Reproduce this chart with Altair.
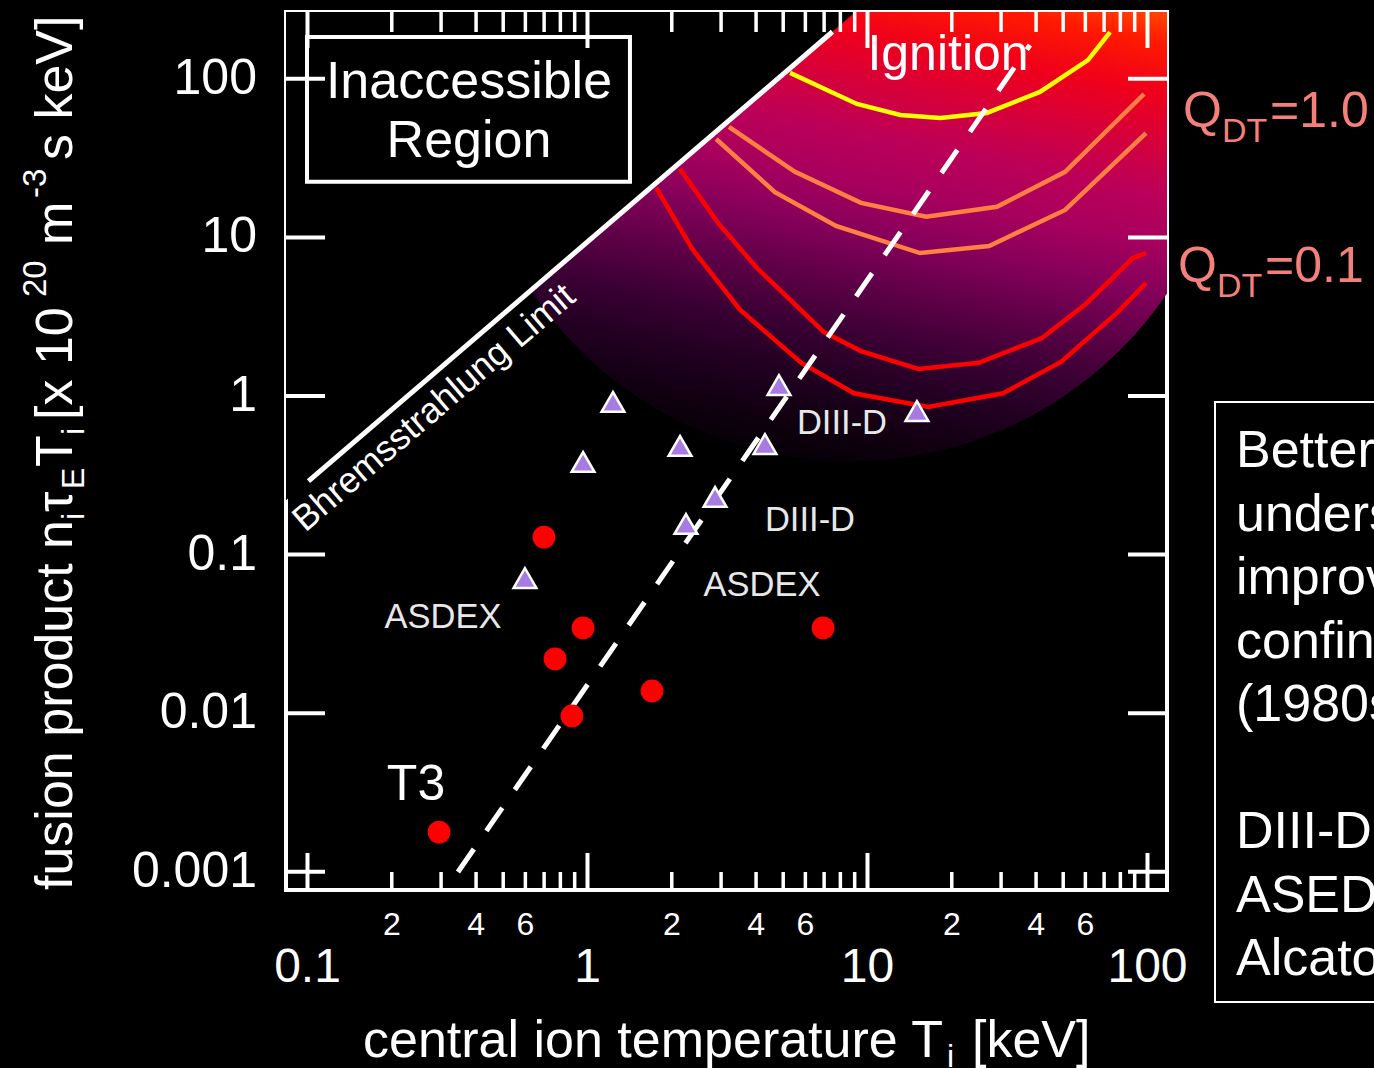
import altair as alt
import pandas as pd

# ---------------- data ----------------
# axis ranges (log-log)
X_DOMAIN = [0.0838, 117.4]
Y_DOMAIN = [0.000768, 263.7]

# Q-contour curves
curve_names = ["Ignition", "Q=1.0 (a)", "Q=1.0 (b)", "Q=0.1 (a)", "Q=0.1 (b)"]
curve_T = [
    [5.29, 9.17, 13.1, 18.2, 26.7, 41.3, 61.3, 73.5],
    [3.20, 5.51, 9.48, 16.2, 29.0, 50.8, 97.2],
    [2.88, 4.67, 7.72, 15.4, 27.2, 50.8, 98.8],
    [2.14, 2.93, 4.03, 6.99, 9.48, 15.2, 25.0, 42.0, 60.8, 88.8, 98.8],
    [1.76, 2.38, 3.51, 5.79, 8.95, 16.5, 30.5, 49.1, 78.5, 98.8],
]
curve_nT = [
    [109, 69.4, 59.1, 56.6, 60.9, 82.6, 131, 197],
    [49.7, 25.9, 16.5, 13.5, 15.6, 25.9, 80.2],
    [41.7, 19.3, 11.8, 7.97, 8.83, 14.9, 45.5],
    [27.0, 12.3, 6.41, 2.53, 1.92, 1.48, 1.62, 2.32, 3.86, 7.42, 7.97],
    [20.5, 8.33, 3.49, 1.62, 1.04, 0.852, 1.04, 1.64, 3.39, 5.16],
]
curve_colors = ["#ffff00", "#ff8040", "#ff8040", "#ff0000", "#ff0000"]

# experiments: red circles and purple triangles
circle_T = [0.295, 0.699, 0.964, 0.766, 0.880, 1.70, 6.94]
circle_nT = [0.00178, 0.129, 0.0345, 0.0220, 0.0096, 0.0138, 0.0345]
tri_T = [0.598, 0.964, 1.233, 2.14, 2.247, 2.854, 4.304, 4.83, 15.02]
tri_nT = [0.0712, 0.384, 0.917, 0.484, 0.156, 0.231, 0.498, 1.173, 0.804]

# Bremsstrahlung limit line and its masked (inaccessible) side
brems_T = [0.1008, 7.5]
brems_nT = [0.291, 198]
mask_T = [0.08, 12.0]
mask_nT = [0.205, 404]

# dashed trend line
trend_T = [0.3446, 38.05]
trend_nT = [0.000997, 163.4]

# reactor-regime disk centre
disk_T = [8.66]
disk_nT = [100.5]

# "Inaccessible Region" box
box_T = [0.0996, 1.418]
box_nT = [22.4, 183.5]

# labels
small_labels = ["ASDEX", "ASDEX", "DIII-D", "DIII-D"]
small_T = [0.3048, 4.20, 8.108, 6.232]
small_nT = [0.03446, 0.0548, 0.576, 0.1409]

# ticks
x_major = [0.1, 1, 10, 100]
x_major_lab = ["0.1", "1", "10", "100"]
x_minor = [0.2, 0.3, 0.4, 0.5, 0.6, 0.7, 0.8, 0.9,
           2, 3, 4, 5, 6, 7, 8, 9,
           20, 30, 40, 50, 60, 70, 80, 90]
x_minor_lab_pos = [0.2, 0.4, 0.6, 2, 4, 6, 20, 40, 60]
x_minor_lab = ["2", "4", "6", "2", "4", "6", "2", "4", "6"]
y_major = [100, 10, 1, 0.1, 0.01, 0.001]
y_major_lab = ["100", "10", "1", "0.1", "0.01", "0.001"]

side_lines_a = ["Better", "understanding,", "improved", "confinement", "(1980s)"]
side_lines_b = ["DIII-D", "ASEDX", "Alcator"]

# ---------------- helpers ----------------
FONT = "Liberation Sans"
xs = alt.Scale(type="log", domain=X_DOMAIN, nice=False)
ys = alt.Scale(type="log", domain=Y_DOMAIN, nice=False)


def X(f="x"):
    return alt.X(f"{f}:Q", scale=xs, axis=None)


def Y(f="y"):
    return alt.Y(f"{f}:Q", scale=ys, axis=None)


grad_offsets = [0.0, 0.077, 0.173, 0.269, 0.365, 0.462, 0.558, 0.654, 0.75, 0.846, 0.942, 1.0]
grad_colors = ["#ff5500", "#ff1a00", "#f0001a", "#d6003a", "#bc0058", "#a8005e",
               "#85005a", "#600048", "#3c0034", "#220022", "#100010", "#080008"]
grad = alt.LinearGradient(
    gradient="linear",
    stops=[alt.GradientStop(color=c, offset=o) for o, c in zip(grad_offsets, grad_colors)],
    x1=0.905, y1=0.400, x2=0.774, y2=1.055,
)

layers = []

# gradient disk
layers.append(
    alt.Chart(pd.DataFrame({"x": disk_T, "y": disk_nT}))
    .mark_arc(radius=383, theta=0, theta2=6.2832, fill=grad, clip=True)
    .encode(x=X(), y=Y())
)
# black mask above Bremsstrahlung limit
layers.append(
    alt.Chart(pd.DataFrame({"x": mask_T, "y": mask_nT, "y2": [1000, 1000]}))
    .mark_area(color="black", clip=True)
    .encode(x=X(), y=Y(), y2=alt.Y2("y2"))
)

# curves
rows = []
for name, Ts, Ns in zip(curve_names, curve_T, curve_nT):
    for i, (t, n) in enumerate(zip(Ts, Ns)):
        rows.append({"curve": name, "x": t, "y": n, "i": i})
layers.append(
    alt.Chart(pd.DataFrame(rows))
    .mark_line(strokeWidth=4.5, clip=True)
    .encode(
        x=X(), y=Y(),
        color=alt.Color("curve:N", scale=alt.Scale(domain=curve_names, range=curve_colors), legend=None),
        order="i:Q",
    )
)

# Bremsstrahlung line
layers.append(
    alt.Chart(pd.DataFrame({"x": brems_T, "y": brems_nT}))
    .mark_line(color="white", strokeWidth=5)
    .encode(x=X(), y=Y())
)
# dashed trend line
layers.append(
    alt.Chart(pd.DataFrame({"x": trend_T, "y": trend_nT}))
    .mark_line(color="white", strokeWidth=5, strokeDash=[28, 22])
    .encode(x=X(), y=Y())
)
# points
layers.append(
    alt.Chart(pd.DataFrame({"x": circle_T, "y": circle_nT}))
    .mark_point(shape="circle", filled=True, color="#ff0000", size=520, opacity=1)
    .encode(x=X(), y=Y())
)
layers.append(
    alt.Chart(pd.DataFrame({"x": tri_T, "y": tri_nT}))
    .mark_point(shape="triangle-up", filled=True, fill="#a77be2", stroke="white",
                strokeWidth=2.5, size=520, opacity=1)
    .encode(x=X(), y=Y())
)

# inaccessible box
layers.append(
    alt.Chart(pd.DataFrame({"x": [box_T[0]], "x2": [box_T[1]], "y": [box_nT[0]], "y2": [box_nT[1]]}))
    .mark_rect(filled=False, color="white", strokeWidth=4)
    .encode(x=X(), x2=alt.X2("x2"), y=Y(), y2=alt.Y2("y2"))
)


def text_layer(texts, Ts, Ns, **kw):
    return (
        alt.Chart(pd.DataFrame({"x": Ts, "y": Ns, "t": texts}))
        .mark_text(font=FONT, **kw)
        .encode(x=X(), y=Y(), text="t:N")
    )


layers.append(text_layer(["Inaccessible", "Region"], [0.3774, 0.3774], [75.7, 32.1],
                         fontSize=52, color="white", align="center", baseline="alphabetic"))
layers.append(text_layer(["Ignition"], [19.39], [113.6],
                         fontSize=50, color="white", align="center", baseline="alphabetic"))
layers.append(text_layer(["T3"], [0.2441], [0.002837],
                         fontSize=50, color="white", align="center", baseline="alphabetic"))
layers.append(text_layer(small_labels, small_T, small_nT,
                         fontSize=34.5, color="#e8e8e8", align="center", baseline="alphabetic"))
layers.append(text_layer(["Bhremsstrahlung Limit"], [0.2834], [0.840],
                         fontSize=36, color="white", align="center", baseline="middle", angle=319.4))

# ---------------- ticks ----------------
W, H = 881, 878


def xticks(vals, y0, y1, sw=4):
    return (
        alt.Chart(pd.DataFrame({"x": vals}))
        .mark_rule(color="white", strokeWidth=sw)
        .encode(x=X(), y=alt.value(y0), y2=alt.value(y1))
    )


def yticks(vals, x0, x1, sw=4):
    return (
        alt.Chart(pd.DataFrame({"y": vals}))
        .mark_rule(color="white", strokeWidth=sw)
        .encode(y=Y(), x=alt.value(x0), x2=alt.value(x1))
    )


layers += [
    xticks(x_major, H, H - 37), xticks(x_minor, H, H - 18, 3.5),
    xticks(x_major, 0, 36), xticks(x_minor, 0, 20, 3.5),
    yticks(y_major, 0, 39), yticks(y_major, W, W - 39),
]

# tick labels
layers.append(
    alt.Chart(pd.DataFrame({"x": x_major, "t": x_major_lab}))
    .mark_text(font=FONT, fontSize=48, color="white", align="center", baseline="alphabetic")
    .encode(x=X(), y=alt.value(970), text="t:N")
)
layers.append(
    alt.Chart(pd.DataFrame({"x": x_minor_lab_pos, "t": x_minor_lab}))
    .mark_text(font=FONT, fontSize=32, color="white", align="center", baseline="alphabetic")
    .encode(x=X(), y=alt.value(923), text="t:N")
)
layers.append(
    alt.Chart(pd.DataFrame({"y": y_major, "t": y_major_lab}))
    .mark_text(font=FONT, fontSize=50, color="white", align="right", baseline="middle")
    .encode(y=Y(), x=alt.value(-29), text="t:N")
)


def free_text(text, x, y, size, color="white", **kw):
    return (
        alt.Chart(pd.DataFrame({"t": [text]}))
        .mark_text(font=FONT, fontSize=size, color=color, baseline="alphabetic", **kw)
        .encode(x=alt.value(x), y=alt.value(y), text="t:N")
    )


# x-axis title
layers += [
    free_text("central ion temperature T", 77, 1045, 52, align="left"),
    free_text("i", 661, 1055, 32, align="left"),
    free_text("[keV]", 686, 1045, 52, align="left"),
]

# y-axis title (rotated pieces): (text, start y px, kind)
ytitle = [
    ("fusion product n", 890, "main"),
    ("i", 520, "sub"),
    ("τ", 512, "main"),
    ("E", 489, "sub"),
    ("T", 467, "main"),
    ("i", 435, "sub"),
    ("[x 10", 420, "main"),
    ("20", 297, "sup"),
    ("m", 245, "main"),
    ("-3", 198, "sup"),
    ("s keV]", 160, "main"),
]
base_x = {"main": 72, "sub": 84, "sup": 46}
fsize = {"main": 52, "sub": 32, "sup": 33}
for t, ypx, kind in ytitle:
    layers.append(free_text(t, base_x[kind] - 286, ypx - 12, fsize[kind], align="left", angle=270))

# Q labels on the right
QC = "#f3807a"
for (qx, qy, val) in [(1183, 127, "=1.0"), (1178, 282, "=0.1")]:
    layers += [
        free_text("Q", qx - 286, qy - 12, 50, color=QC, align="left"),
        free_text("DT", qx + 39 - 286, qy + 15 - 12, 34, color=QC, align="left"),
        free_text(val, qx + 87 - 286, qy - 12, 50, color=QC, align="left"),
    ]

# side box
layers.append(
    alt.Chart(pd.DataFrame({"a": [0]}))
    .mark_rect(filled=False, color="white", strokeWidth=2)
    .encode(x=alt.value(929), x2=alt.value(1300), y=alt.value(390), y2=alt.value(990))
)
for lines, y0 in [(side_lines_a, 455), (side_lines_b, 836)]:
    layers.append(
        alt.Chart(pd.DataFrame({"t": ["\n".join(lines)]}))
        .mark_text(font=FONT, fontSize=52, color="white", align="left", baseline="alphabetic",
                   lineBreak="\n", lineHeight=63.6)
        .encode(x=alt.value(950), y=alt.value(y0), text="t:N")
    )

chart = (
    alt.layer(*layers)
    .properties(
        width=W, height=H,
        autosize=alt.AutoSizeParams(type="none"),
        padding={"left": 286, "top": 12, "right": 207, "bottom": 178},
        background="black",
    )
    .configure_view(stroke="white", strokeWidth=4, fill="black")
)

chart.save("out.html", embed_options={"renderer": "svg", "actions": False})
